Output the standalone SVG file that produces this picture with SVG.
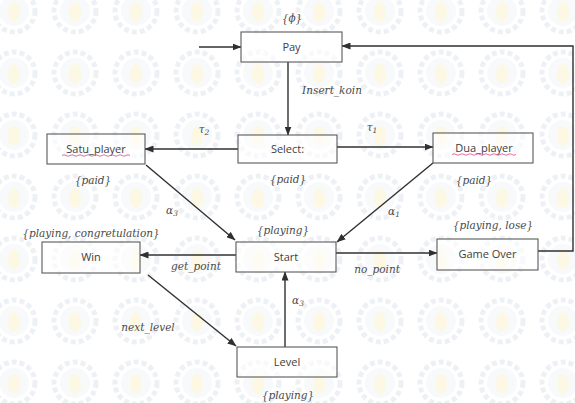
<svg xmlns="http://www.w3.org/2000/svg" width="575" height="403" viewBox="0 0 575 403">
<style>
.node rect{fill:#ffffff;fill-opacity:0.55;stroke:#5a5a5a;stroke-width:1.1}
.lbl{font-family:"Open Sans","Liberation Sans",sans-serif;font-size:11px;fill:#404040;text-anchor:middle}
.mth{font-family:"DejaVu Serif","Liberation Serif",serif;font-style:italic;font-size:10.5px;fill:#4a4a4a;text-anchor:middle}
.edge{stroke:#303030;stroke-width:1.4;fill:none}
.sq{stroke:#e0609a;stroke-width:0.9;fill:none}
</style>
<defs>
<marker id="ah" markerWidth="9" markerHeight="7" refX="8.5" refY="3.5" orient="auto" markerUnits="userSpaceOnUse">
<path d="M0,0 L9,3.5 L0,7 Z" fill="#303030"/>
</marker>
<pattern id="wm" x="-16" y="-20" width="61" height="62" patternUnits="userSpaceOnUse">
<circle cx="30" cy="31" r="21" fill="none" stroke="#e9edf3" stroke-width="5" stroke-dasharray="5 3"/>
<circle cx="30" cy="31" r="15" fill="#f6f8fa"/>
<ellipse cx="30" cy="32" rx="6" ry="10" fill="#fcf6dc"/>
</pattern>
</defs>
<rect width="575" height="403" fill="#ffffff"/>
<rect width="575" height="403" fill="url(#wm)" opacity="0.8"/>

<g id="connectors">
<line class="edge" x1="199" y1="47" x2="241" y2="47" marker-end="url(#ah)"/>
<polyline class="edge" points="538,251 573,251 573,46 342,46" marker-end="url(#ah)"/>
<line class="edge" x1="288" y1="62" x2="288" y2="135" marker-end="url(#ah)"/>
<line class="edge" x1="238" y1="149" x2="145" y2="149" marker-end="url(#ah)"/>
<line class="edge" x1="337" y1="147" x2="433" y2="147" marker-end="url(#ah)"/>
<line class="edge" x1="146" y1="165" x2="235" y2="240" marker-end="url(#ah)"/>
<line class="edge" x1="433" y1="163" x2="337" y2="242" marker-end="url(#ah)"/>
<line class="edge" x1="236" y1="255" x2="140" y2="255" marker-end="url(#ah)"/>
<line class="edge" x1="336" y1="253" x2="437" y2="253" marker-end="url(#ah)"/>
<line class="edge" x1="148" y1="275" x2="236" y2="346" marker-end="url(#ah)"/>
<line class="edge" x1="285" y1="347" x2="285" y2="272" marker-end="url(#ah)"/>
<text class="mth" x="332" y="94">Insert_koin</text>
<text class="mth" x="204" y="133">τ<tspan font-size="7.5" dy="2">2</tspan></text>
<text class="mth" x="372" y="131">τ<tspan font-size="7.5" dy="2">1</tspan></text>
<text class="mth" x="172" y="214">α<tspan font-size="7.5" dy="2">3</tspan></text>
<text class="mth" x="394" y="215">α<tspan font-size="7.5" dy="2">1</tspan></text>
<text class="mth" x="298" y="304">α<tspan font-size="7.5" dy="2">3</tspan></text>
<text class="mth" x="196" y="270">get_point</text>
<text class="mth" x="377" y="273">no_point</text>
<text class="mth" x="148" y="331">next_level</text>
</g>

<g id="pay" class="node">
<rect x="241" y="32" width="101" height="30"/>
<text class="lbl" x="291.5" y="51">Pay</text>
<text class="mth" x="292" y="22">{ϕ}</text>
</g>
<g id="select" class="node">
<rect x="238" y="135" width="99" height="28"/>
<text class="lbl" x="287.5" y="153">Select:</text>
<text class="mth" x="288" y="183">{paid}</text>
</g>
<g id="satu_player" class="node">
<rect x="47" y="134" width="98" height="30"/>
<text class="lbl" x="96" y="153">Satu_player</text>
<path class="sq" d="M62,155.5 q2,-1.5 4,0 t4,0 t4,0 t4,0 t4,0 t4,0 t4,0 t4,0 t4,0 t4,0 t4,0 t4,0 t4,0 t4,0 t4,0 t4,0 t4,0"/>
<text class="mth" x="93" y="184">{paid}</text>
</g>
<g id="dua_player" class="node">
<rect x="433" y="133" width="100" height="30"/>
<text class="lbl" x="484" y="152">Dua_player</text>
<path class="sq" d="M452,154.5 q2,-1.5 4,0 t4,0 t4,0 t4,0 t4,0 t4,0 t4,0 t4,0 t4,0 t4,0 t4,0 t4,0 t4,0 t4,0 t4,0 t4,0"/>
<text class="mth" x="474" y="184">{paid}</text>
</g>
<g id="start" class="node">
<rect x="236" y="242" width="100" height="30"/>
<text class="lbl" x="286" y="261">Start</text>
<text class="mth" x="283" y="234">{playing}</text>
</g>
<g id="win" class="node">
<rect x="42" y="242" width="98" height="31"/>
<text class="lbl" x="91" y="261">Win</text>
<text class="mth" x="91" y="237">{playing, congretulation}</text>
</g>
<g id="game_over" class="node">
<rect x="437" y="239" width="101" height="31"/>
<text class="lbl" x="487.5" y="258">Game Over</text>
<text class="mth" x="493" y="229">{playing, lose}</text>
</g>
<g id="level" class="node">
<rect x="237" y="347" width="100" height="30"/>
<text class="lbl" x="287" y="366">Level</text>
<text class="mth" x="288" y="399">{playing}</text>
</g>
</svg>
